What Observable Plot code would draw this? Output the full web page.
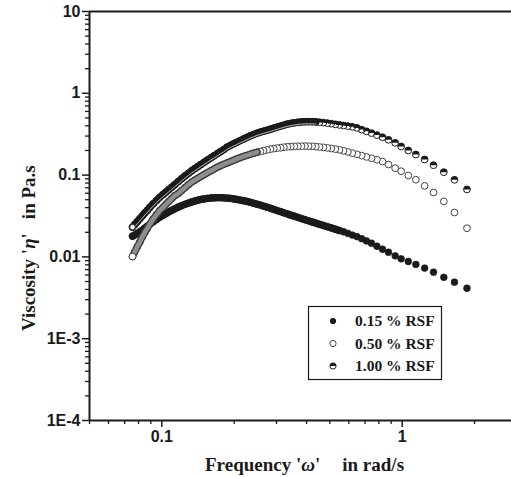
<!DOCTYPE html>
<html>
<head>
<meta charset="utf-8">
<script src="https://cdn.jsdelivr.net/npm/d3@7"></script>
<script src="https://cdn.jsdelivr.net/npm/@observablehq/plot@0.6"></script>
<style>
  html, body { margin: 0; padding: 0; background: #fff; overflow: hidden; }
</style>
</head>
<body>
<div id="chart"></div>
<script>
// Angular frequency (rad/s), shared by all three series
const freq = [1.86,1.65,1.49,1.35,1.24,1.14,1.06,0.99,0.935,0.877,0.828,0.785,0.745,0.71,0.678,0.648,0.62,0.594,0.57,0.548,0.527,0.507,0.488,0.47,0.453,0.437,0.422,0.408,0.394,0.381,0.368,0.356,0.344,0.333,0.322,0.312,0.302,0.292,0.283,0.274,0.265,0.257,0.249,0.241,0.233,0.226,0.219,0.212,0.205,0.199,0.193,0.187,0.181,0.175,0.17,0.165,0.16,0.155,0.15,0.145,0.141,0.137,0.133,0.129,0.125,0.121,0.117,0.113,0.11,0.107,0.104,0.101,0.098,0.095,0.092,0.089,0.087,0.085,0.083,0.081,0.079,0.077,0.0755];

// Viscosity (Pa.s)
const eta015 = [0.00414,0.00491,0.00563,0.0065,0.0073,0.00808,0.00879,0.00948,0.0103,0.0114,0.0124,0.0135,0.0147,0.0157,0.0167,0.0177,0.0185,0.0194,0.0203,0.021,0.0218,0.0226,0.0234,0.0242,0.025,0.0259,0.0267,0.0276,0.0285,0.0294,0.0304,0.0314,0.0324,0.0335,0.0346,0.0357,0.0368,0.0381,0.0393,0.0405,0.0418,0.043,0.0441,0.0453,0.0466,0.0477,0.0486,0.0495,0.0505,0.0512,0.0519,0.0523,0.0527,0.0529,0.0529,0.0528,0.0525,0.0519,0.0512,0.0503,0.0493,0.0482,0.0469,0.0455,0.044,0.0423,0.0406,0.0386,0.0371,0.0356,0.0339,0.0322,0.0306,0.0287,0.0269,0.025,0.0237,0.0225,0.0213,0.0203,0.0193,0.0185,0.0179];

const eta050 = [0.0224,0.0349,0.0477,0.0613,0.0738,0.0879,0.0989,0.1116,0.1215,0.1348,0.1466,0.1543,0.1605,0.1669,0.1731,0.1796,0.1857,0.1921,0.1982,0.2038,0.2079,0.2114,0.215,0.2181,0.2206,0.2231,0.225,0.2256,0.2262,0.2256,0.225,0.2243,0.2231,0.2218,0.2194,0.2163,0.2138,0.2109,0.2073,0.2033,0.1988,0.1943,0.1905,0.1852,0.1796,0.1741,0.1693,0.1636,0.1573,0.1517,0.1462,0.1409,0.1355,0.1296,0.1246,0.1188,0.1129,0.1073,0.1014,0.0959,0.0912,0.0864,0.0819,0.0761,0.0705,0.0648,0.0596,0.0558,0.0517,0.0478,0.044,0.0401,0.0368,0.0328,0.0289,0.025,0.0223,0.0199,0.0176,0.0152,0.0133,0.0114,0.0101];

const eta100 = [0.0667,0.0876,0.1085,0.1321,0.1551,0.1786,0.1998,0.2237,0.2482,0.2701,0.2905,0.3083,0.3261,0.3431,0.3598,0.3776,0.3895,0.3972,0.404,0.4109,0.4178,0.425,0.4322,0.4383,0.4433,0.4471,0.4496,0.4508,0.4496,0.4471,0.442,0.4358,0.4285,0.4202,0.4085,0.3972,0.3862,0.3744,0.3639,0.3538,0.344,0.3354,0.3252,0.3135,0.3014,0.2889,0.2762,0.2641,0.2518,0.2413,0.2307,0.2199,0.2049,0.1926,0.1826,0.1726,0.1627,0.153,0.1434,0.134,0.1267,0.1197,0.1129,0.1052,0.0978,0.0904,0.0833,0.0761,0.0713,0.0667,0.062,0.0576,0.0534,0.0489,0.0445,0.0401,0.0371,0.0345,0.0318,0.0293,0.027,0.0247,0.0231];

const seriesNames = ["0.15 % RSF", "0.50 % RSF", "1.00 % RSF"];

const yTicks = [10, 1, 0.1, 0.01, 0.001, 0.0001];
const yTickLabels = ["10", "1", "0.1", "0.01", "1E-3", "1E-4"];
const xTicks = [0.1, 1];
const xTickLabels = ["0.1", "1"];

// minor tick positions (2..9 within each decade)
const yMinor = [];
for (let e = -4; e < 1; e++) for (let m = 2; m <= 9; m++) yMinor.push(m * Math.pow(10, e));
const xMinor = [0.05, 0.06, 0.07, 0.08, 0.09, 0.2, 0.3, 0.4, 0.5, 0.6, 0.7, 0.8, 0.9, 2];

const rows015 = freq.map((f, i) => ({f, v: eta015[i]}));
const rows050 = freq.map((f, i) => ({f, v: eta050[i]}));
const rows100 = freq.map((f, i) => ({f, v: eta100[i]}));

// in the low-frequency part the measured points are so dense that they merge into a band
const dense015 = rows015.filter(d => d.f <= 0.55);
const dense050 = rows050.filter(d => d.f <= 0.25);
const dense100 = rows100.filter(d => d.f <= 0.45);
const first050 = rows050.slice(-1);
const first100 = rows100.slice(-1);

// top-half filled circle symbol
const halfTop = {
  draw(ctx, size) {
    const r = Math.sqrt(size / Math.PI);
    ctx.moveTo(r, 0);
    ctx.arc(0, 0, r, 0, Math.PI, true);
    ctx.closePath();
  }
};

const ink = "#1a1a1a";
const sans = "'Liberation Sans', Arial, sans-serif";
const serif = "'Liberation Serif', 'Times New Roman', serif";
const R = 3.4;
const band = 7.2;

const chart = Plot.plot({
  width: 511,
  height: 477,
  marginLeft: 89,
  marginRight: 0,
  marginTop: 11,
  marginBottom: 57,
  x: {type: "log", domain: [0.05, 2.85]},
  y: {type: "log", domain: [0.0001, 10]},
  style: {fontFamily: sans, fontWeight: "bold", fontSize: "16px", color: ink, background: "#fff"},
  marks: [
    Plot.axisY(yMinor, {tickSize: 4, tickFormat: () => "", label: null, strokeWidth: 1.3}),
    Plot.axisY(yTicks, {tickSize: 7, tickPadding: 2, label: null, strokeWidth: 1.5, fontSize: 16,
      tickFormat: d => yTickLabels[yTicks.indexOf(d)]}),
    Plot.axisX(xMinor, {tickSize: 4, tickFormat: () => "", label: null, strokeWidth: 1.3}),
    Plot.axisX(xTicks, {tickSize: 7, tickPadding: 3, label: null, strokeWidth: 1.5, fontSize: 16,
      tickFormat: d => xTickLabels[xTicks.indexOf(d)]}),
    Plot.ruleY([10], {stroke: ink, strokeWidth: 2}),
    Plot.ruleY([0.0001], {stroke: ink, strokeWidth: 2}),
    Plot.ruleX([0.05], {stroke: ink, strokeWidth: 2}),
    // 0.15 %
    Plot.dot(rows015, {x: "f", y: "v", r: R, fill: ink, stroke: ink, strokeWidth: 0.6}),
    Plot.line(dense015, {x: "f", y: "v", stroke: ink, strokeWidth: band, strokeLinecap: "round", curve: "monotone-x"}),
    // 0.50 %
    Plot.dot(rows050, {x: "f", y: "v", r: R, fill: "#fff", stroke: "#444", strokeWidth: 1}),
    Plot.line(dense050, {x: "f", y: "v", stroke: "#3c3c3c", strokeWidth: band, strokeLinecap: "round", curve: "monotone-x"}),
    Plot.line(dense050, {x: "f", y: "v", stroke: "#8e8e8e", strokeWidth: band - 2.6, strokeLinecap: "round", curve: "monotone-x"}),
    Plot.dot(first050, {x: "f", y: "v", r: R, fill: "#fff", stroke: "#444", strokeWidth: 1}),
    // 1.00 %
    Plot.dot(rows100, {x: "f", y: "v", r: R, fill: "#fff", stroke: ink, strokeWidth: 1}),
    Plot.dot(rows100, {x: "f", y: "v", r: R, symbol: halfTop, fill: ink, stroke: "none"}),
    Plot.line(dense100, {x: "f", y: "v", stroke: ink, strokeWidth: band, strokeLinecap: "round", curve: "monotone-x"}),
    Plot.line(dense100, {x: "f", y: "v", dy: 2.2, stroke: "#cfcfcf", strokeWidth: 0.9, curve: "monotone-x"}),
    Plot.dot(first100, {x: "f", y: "v", r: R - 0.6, fill: "#fff", stroke: ink, strokeWidth: 1})
  ]
});

document.getElementById("chart").appendChild(chart);

const svg = d3.select(chart);

// axis titles
const yt = svg.append("text")
  .attr("transform", "translate(35,331) rotate(-90)")
  .attr("text-anchor", "start")
  .attr("font-family", serif).attr("font-weight", "bold").attr("font-size", 19)
  .attr("fill", ink);
yt.append("tspan").text("Viscosity '");
yt.append("tspan").attr("font-style", "italic").text("η");
yt.append("tspan").text("'");
yt.append("tspan").attr("dx", 14).text("in Pa.s");

const xt = svg.append("text")
  .attr("x", 205).attr("y", 471)
  .attr("text-anchor", "start")
  .attr("font-family", serif).attr("font-weight", "bold").attr("font-size", 19)
  .attr("fill", ink);
xt.append("tspan").text("Frequency '");
xt.append("tspan").attr("font-style", "italic").text("ω");
xt.append("tspan").text("'");
xt.append("tspan").attr("dx", 22).text("in rad/s");

// legend
const lg = svg.append("g");
lg.append("rect").attr("x", 308.5).attr("y", 306.5).attr("width", 133).attr("height", 73)
  .attr("fill", "#fff").attr("stroke", ink).attr("stroke-width", 1.2);
const rowsY = [321, 343.5, 366];
const lr = 3.1;
lg.append("circle").attr("cx", 333).attr("cy", rowsY[0]).attr("r", lr).attr("fill", ink);
lg.append("circle").attr("cx", 333).attr("cy", rowsY[1]).attr("r", lr).attr("fill", "#fff").attr("stroke", "#444").attr("stroke-width", 1);
lg.append("circle").attr("cx", 333).attr("cy", rowsY[2]).attr("r", lr).attr("fill", "#fff").attr("stroke", ink).attr("stroke-width", 1);
lg.append("path").attr("transform", `translate(333,${rowsY[2]})`)
  .attr("d", `M${lr},0A${lr},${lr} 0 0 0 ${-lr},0Z`).attr("fill", ink);
seriesNames.forEach((name, i) => {
  lg.append("text").attr("x", 355).attr("y", rowsY[i] + 5)
    .attr("text-anchor", "start")
    .attr("font-family", serif).attr("font-weight", "bold").attr("font-size", 15.5)
    .attr("fill", ink).text(name);
});
</script>
</body>
</html>
